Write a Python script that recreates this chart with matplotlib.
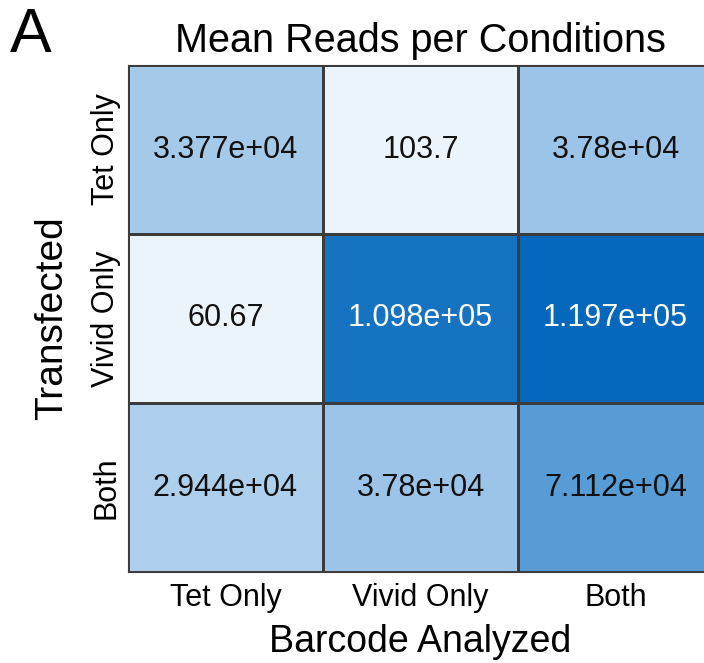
import matplotlib
matplotlib.use("Agg")
import matplotlib.pyplot as plt
import numpy as np
from matplotlib.colors import LinearSegmentedColormap

plt.rcParams['font.family'] = ['Liberation Sans', 'DejaVu Sans']

row_labels = ["Tet Only", "Vivid Only", "Both"]
col_labels = ["Tet Only", "Vivid Only", "Both"]
tet_row = [3.377e4, 103.7, 3.78e4]
vivid_row = [60.67, 1.098e5, 1.197e5]
both_row = [2.944e4, 3.78e4, 7.112e4]
values = np.array([tet_row, vivid_row, both_row])

cmap = LinearSegmentedColormap.from_list(
    "custblue",
    [(0.0, (236/255, 244/255, 251/255)),
     (0.5, (108/255, 168/255, 220/255)),
     (1.0, (5/255, 104/255, 188/255))])

fig = plt.figure(figsize=(7.04, 6.63), dpi=100)
W, H = 704, 663
ax = fig.add_axes([128/W, 1 - 572/H, 585/W, 507/H])

vmin, vmax = 0, values.max()
mesh = ax.pcolormesh(np.arange(4), np.arange(4), values, cmap=cmap,
                     vmin=vmin, vmax=vmax, edgecolors='#3c3c3c', linewidth=0.8)
ax.set_xlim(0, 3)
ax.set_ylim(3, 0)

for i in range(3):
    for j in range(3):
        v = values[i, j]
        frac = (v - vmin) / (vmax - vmin)
        color = 'white' if frac > 0.75 else '#111111'
        ax.text(j + 0.5, i + 0.5, format(v, '.4g'), ha='center', va='center',
                fontsize=22, color=color)

ax.set_xticks(np.arange(3) + 0.5)
ax.set_xticklabels(col_labels, fontsize=22)
ax.set_yticks(np.arange(3) + 0.5)
ax.set_yticklabels(row_labels, fontsize=22, rotation=90, va='center')
ax.tick_params(axis='x', length=0, pad=8)
ax.tick_params(axis='y', length=0, pad=5)
for s in ax.spines.values():
    s.set_edgecolor('#3c3c3c')
    s.set_linewidth(0.8)

ax.set_xlabel("Barcode Analyzed", fontsize=27, labelpad=8)
ax.set_ylabel("Transfected", fontsize=28, labelpad=15)

fig.text(420/W, 1 - 52/H, "Mean Reads per Conditions", fontsize=28.5,
         ha='center', va='baseline')
fig.text(10/W, 1 - 52/H, "A", fontsize=45, ha='left', va='baseline')

fig.savefig("out.png", dpi=100)
